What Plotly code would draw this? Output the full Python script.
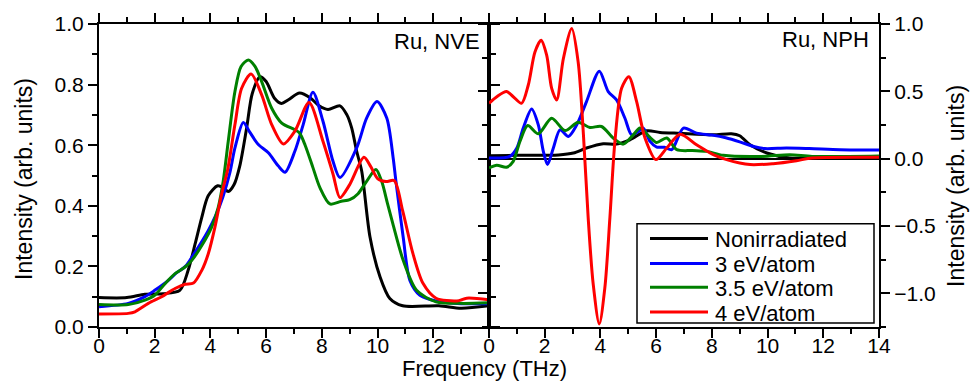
import plotly.graph_objects as go

# ---------------- data: left panel (Ru, NVE) ----------------
nve_black_f = [0, 1.0, 1.65, 2.3, 2.9, 3.2, 3.45, 3.69, 3.92, 4.26, 4.46, 4.64, 4.85, 5.05, 5.3, 5.5, 5.78, 6.0, 6.3, 6.55, 6.8, 7.2, 7.6, 7.9, 8.22, 8.65, 8.9, 9.07, 9.25, 9.43, 9.73, 10.09, 10.44, 10.9, 12.2, 13.0, 14]
nve_black_v = [0.097, 0.097, 0.108, 0.11, 0.121, 0.187, 0.274, 0.362, 0.433, 0.466, 0.46, 0.447, 0.47, 0.53, 0.657, 0.77, 0.826, 0.81, 0.755, 0.738, 0.75, 0.772, 0.755, 0.73, 0.718, 0.73, 0.7, 0.657, 0.58, 0.515, 0.296, 0.165, 0.094, 0.07, 0.07, 0.062, 0.07]

nve_blue_f = [0, 1.05, 1.65, 2.0, 2.49, 2.8, 3.1, 3.4, 3.92, 4.2, 4.45, 4.7, 4.88, 5.18, 5.4, 5.72, 6.08, 6.44, 6.68, 7.03, 7.33, 7.68, 8.04, 8.4, 8.65, 9.25, 9.61, 9.98, 10.33, 10.56, 10.66, 10.92, 11.16, 11.52, 12.24, 13.0, 14]
nve_blue_v = [0.067, 0.078, 0.1, 0.121, 0.154, 0.18, 0.2, 0.24, 0.318, 0.37, 0.43, 0.51, 0.591, 0.675, 0.645, 0.602, 0.575, 0.531, 0.511, 0.58, 0.668, 0.775, 0.679, 0.547, 0.493, 0.591, 0.69, 0.744, 0.69, 0.558, 0.48, 0.296, 0.154, 0.105, 0.083, 0.077, 0.077]

nve_green_f = [0, 1.05, 1.65, 2.0, 2.37, 2.73, 3.09, 3.33, 3.69, 4.04, 4.28, 4.46, 4.64, 4.88, 5.1, 5.36, 5.6, 5.84, 6.2, 6.56, 7.03, 7.2, 7.4, 7.68, 7.93, 8.29, 8.7, 9.0, 9.3, 9.6, 9.94, 10.15, 10.35, 10.55, 10.92, 11.4, 12.1, 13.0, 14]
nve_green_v = [0.074, 0.074, 0.089, 0.105, 0.143, 0.176, 0.198, 0.22, 0.269, 0.329, 0.395, 0.482, 0.613, 0.777, 0.86, 0.881, 0.86, 0.81, 0.722, 0.673, 0.651, 0.64, 0.6, 0.526, 0.46, 0.406, 0.415, 0.42, 0.44, 0.48, 0.52, 0.48, 0.41, 0.34, 0.22, 0.121, 0.083, 0.078, 0.08]

nve_red_f = [0, 1.05, 1.29, 1.77, 2.25, 2.73, 3.09, 3.39, 3.69, 3.92, 4.16, 4.4, 4.62, 4.88, 5.12, 5.46, 5.84, 6.2, 6.62, 7.03, 7.54, 8.04, 8.4, 8.65, 9.0, 9.51, 9.75, 10.0, 10.3, 10.6, 10.9, 11.27, 11.63, 12.1, 12.85, 13.2, 14]
nve_red_v = [0.043, 0.045, 0.05, 0.078, 0.1, 0.127, 0.141, 0.145, 0.187, 0.241, 0.329, 0.438, 0.52, 0.668, 0.788, 0.835, 0.766, 0.668, 0.604, 0.646, 0.741, 0.613, 0.505, 0.427, 0.47, 0.56, 0.53, 0.49, 0.48, 0.483, 0.384, 0.242, 0.144, 0.095, 0.086, 0.095, 0.09]

# ---------------- data: right panel (Ru, NPH) ----------------
nph_black_f = [0, 1.0, 2.5, 3.03, 3.5, 4.1, 4.58, 5.06, 5.66, 6.14, 6.85, 8.05, 8.7, 9.0, 9.37, 9.97, 10.8, 12.0, 14]
nph_black_v = [0.022, 0.025, 0.028, 0.042, 0.079, 0.111, 0.108, 0.14, 0.207, 0.195, 0.188, 0.177, 0.185, 0.17, 0.103, 0.042, 0.005, 0.01, 0.01]

nph_blue_f = [0, 0.75, 1.0, 1.23, 1.53, 1.77, 1.95, 2.1, 2.31, 2.55, 2.85, 3.15, 3.5, 3.96, 4.28, 4.58, 4.88, 5.12, 5.36, 5.54, 5.78, 6.02, 6.3, 6.56, 6.98, 7.45, 8.0, 8.5, 9.0, 9.5, 9.9, 10.68, 11.5, 12.6, 14]
nph_blue_v = [0.005, 0.017, 0.079, 0.227, 0.369, 0.251, 0.054, -0.044, 0.079, 0.214, 0.165, 0.251, 0.424, 0.65, 0.498, 0.436, 0.3, 0.177, 0.202, 0.227, 0.128, 0.086, 0.085, 0.067, 0.227, 0.19, 0.175, 0.155, 0.125, 0.09, 0.075, 0.079, 0.075, 0.067, 0.064]

nph_green_f = [0, 0.28, 0.63, 0.87, 1.11, 1.39, 1.77, 2.25, 2.73, 3.2, 3.62, 4.04, 4.46, 4.82, 5.18, 5.42, 5.78, 6.02, 6.38, 6.74, 7.3, 7.81, 8.41, 9.8, 10.8, 11.6, 14]
nph_green_v = [-0.069, -0.049, -0.064, -0.02, 0.128, 0.246, 0.185, 0.3, 0.209, 0.271, 0.232, 0.239, 0.153, 0.108, 0.177, 0.227, 0.158, 0.12, 0.153, 0.067, 0.06, 0.054, 0.025, 0.017, 0.03, 0.017, 0.02]

nph_red_f = [0, 0.28, 0.63, 0.87, 1.17, 1.41, 1.65, 1.87, 2.07, 2.25, 2.43, 2.67, 2.97, 3.2, 3.39, 3.56, 3.74, 3.96, 4.16, 4.34, 4.52, 4.76, 5.02, 5.3, 5.6, 5.99, 6.38, 6.86, 7.45, 8.05, 8.53, 9.37, 10.2, 11.04, 11.6, 14]
nph_red_v = [0.411, 0.46, 0.498, 0.46, 0.411, 0.547, 0.793, 0.879, 0.768, 0.522, 0.436, 0.744, 0.966, 0.719, 0.177, -0.438, -0.931, -1.227, -0.956, -0.438, 0.128, 0.522, 0.608, 0.424, 0.153, -0.007, 0.079, 0.182, 0.103, 0.03, -0.007, -0.044, -0.037, -0.015, 0.005, 0.01]

series_names = ["Nonirradiated", "3 eV/atom", "3.5 eV/atom", "4 eV/atom"]
series_colors = ["#000000", "#0000ff", "#008000", "#ff0000"]

left_x_ticks = [0, 2, 4, 6, 8, 10, 12]
right_x_ticks = [0, 2, 4, 6, 8, 10, 12, 14]
left_y_ticks = [0.0, 0.2, 0.4, 0.6, 0.8, 1.0]
right_y_ticks = [-1.0, -0.5, 0.0, 0.5, 1.0]

FONT = "Liberation Sans, Arial, sans-serif"

# figure geometry (pixels)
W, H = 972, 383
PL, PR, PT, PB = 99, 879, 22, 327


def px(x):
    return (x - PL) / (PR - PL)


def py(y):
    return (PB - y) / (PB - PT)


fig = go.Figure()

left = [(nve_black_f, nve_black_v), (nve_blue_f, nve_blue_v), (nve_green_f, nve_green_v), (nve_red_f, nve_red_v)]
right = [(nph_black_f, nph_black_v), (nph_blue_f, nph_blue_v), (nph_green_f, nph_green_v), (nph_red_f, nph_red_v)]

for (fx, fy), name, col in zip(left, series_names, series_colors):
    fig.add_trace(go.Scatter(x=fx, y=fy, mode="lines", name=name, showlegend=False,
                             line=dict(color=col, width=3, shape="spline", smoothing=0.8),
                             xaxis="x", yaxis="y"))
for (fx, fy), name, col in zip(right, series_names, series_colors):
    fig.add_trace(go.Scatter(x=fx, y=fy, mode="lines", name=name, showlegend=False,
                             line=dict(color=col, width=3, shape="spline", smoothing=0.8),
                             xaxis="x2", yaxis="y2"))

axis_common = dict(showgrid=False, showline=True, linecolor="black", linewidth=2,
                   ticks="outside", ticklen=9, tickwidth=2, tickcolor="black",
                   mirror="allticks",
                   tickfont=dict(family=FONT, size=21, color="black"))

# legend drawn as a framed box with line samples and labels
shapes = [dict(type="rect", xref="paper", yref="paper",
               x0=px(637), x1=px(874), y0=py(323), y1=py(223),
               line=dict(color="black", width=1.5), fillcolor="white", layer="above")]
annotations = []
legend_rows = [238, 263, 287, 312]
for row, name, col in zip(legend_rows, series_names, series_colors):
    shapes.append(dict(type="line", xref="paper", yref="paper",
                       x0=px(650), x1=px(708), y0=py(row), y1=py(row),
                       line=dict(color=col, width=3), layer="above"))
    annotations.append(dict(text=name, x=px(714), y=py(row + 1), xref="paper", yref="paper",
                            xanchor="left", yanchor="middle", showarrow=False, borderpad=0,
                            font=dict(family=FONT, size=22, color="black")))

annotations += [
    dict(text="Ru, NVE", x=px(482), y=py(40), xref="paper", yref="paper",
         xanchor="right", yanchor="middle", showarrow=False,
         font=dict(family=FONT, size=22, color="black")),
    dict(text="Ru, NPH", x=px(871), y=py(38), xref="paper", yref="paper",
         xanchor="right", yanchor="middle", showarrow=False,
         font=dict(family=FONT, size=22, color="black")),
    dict(text="Frequency (THz)", x=px(484), y=py(382), xref="paper", yref="paper",
         xanchor="center", yanchor="bottom", showarrow=False, borderpad=0,
         font=dict(family=FONT, size=22, color="black")),
    dict(text="Intensity (arb. units)", x=px(24), y=py(178), xref="paper", yref="paper",
         xanchor="center", yanchor="middle", showarrow=False, textangle=-90,
         font=dict(family=FONT, size=23, color="black")),
    dict(text="Intensity (arb. units)", x=px(956), y=py(185), xref="paper", yref="paper",
         xanchor="center", yanchor="middle", showarrow=False, textangle=-90,
         font=dict(family=FONT, size=23, color="black")),
]

fig.update_layout(
    width=W, height=H,
    paper_bgcolor="white", plot_bgcolor="white",
    margin=dict(l=PL, r=W - PR, t=PT, b=H - PB, pad=0),
    font=dict(family=FONT, color="black"),
    showlegend=False,
    xaxis=dict(domain=[0, 0.5], range=[0, 14], tickvals=left_x_ticks, anchor="y", zeroline=False,
               ticklabelstandoff=-10,
               minor=dict(dtick=1, ticklen=5, tickwidth=1.5, tickcolor="black", ticks="outside"),
               **axis_common),
    yaxis=dict(domain=[0, 1], range=[0, 1.0], tickvals=left_y_ticks, tickformat=".1f", anchor="x",
               zeroline=False,
               minor=dict(dtick=0.1, ticklen=5, tickwidth=1.5, tickcolor="black", ticks="outside"),
               **axis_common),
    xaxis2=dict(domain=[0.5, 1], range=[0, 14], tickvals=right_x_ticks, anchor="y2", zeroline=False,
                ticklabelstandoff=-10,
                minor=dict(dtick=1, ticklen=5, tickwidth=1.5, tickcolor="black", ticks="outside"),
                **axis_common),
    yaxis2=dict(domain=[0, 1], range=[-1.25, 1.0], tickvals=right_y_ticks, tickformat=".1f",
                anchor="x2", side="right",
                minor=dict(tick0=0, dtick=0.25, ticklen=5, tickwidth=1.5, tickcolor="black", ticks="outside"),
                zeroline=True, zerolinecolor="black", zerolinewidth=2,
                **axis_common),
    shapes=shapes,
    annotations=annotations,
)

fig.write_html("out.html", config={"displayModeBar": False},
               post_script="document.body.style.margin='0';document.body.style.overflow='hidden';")
